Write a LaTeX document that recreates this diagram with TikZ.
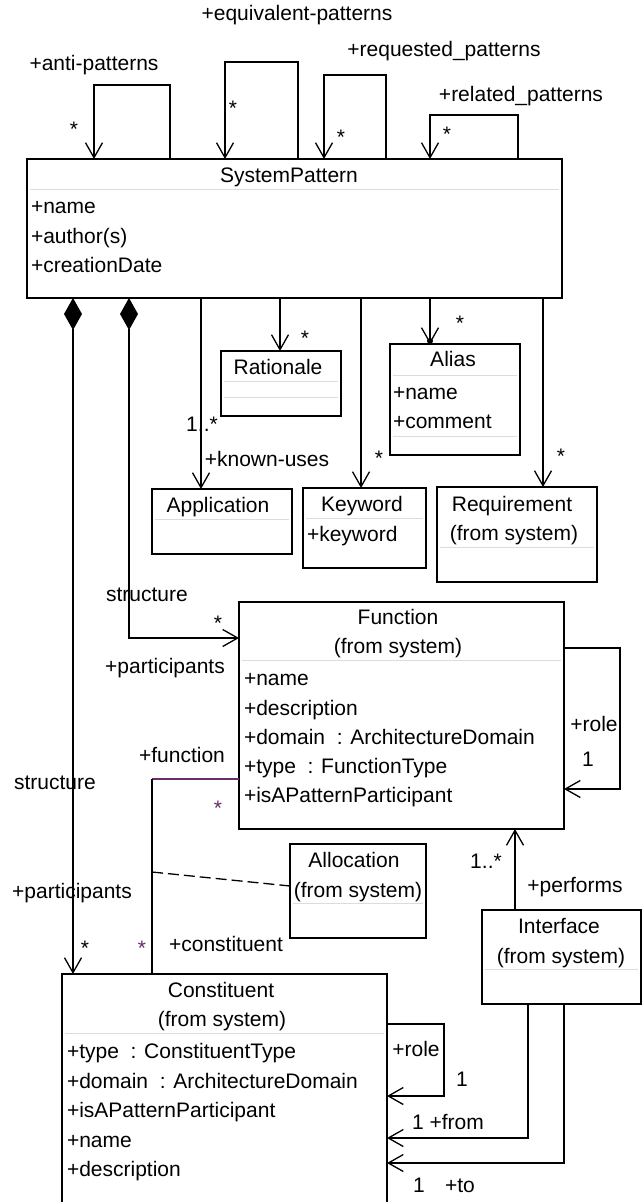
\documentclass[tikz,border=0pt]{standalone}
\usepackage{fontspec}
\setmainfont{Liberation Sans}
\usetikzlibrary{arrows.meta}
\definecolor{sepgray}{RGB}{220,220,220}
\definecolor{seppurple}{RGB}{228,214,232}
\definecolor{umlpurple}{RGB}{104,44,104}
\begin{document}
\begin{tikzpicture}[x=1pt,y=-1pt,
  every node/.style={inner sep=0pt,outer sep=0pt},
  classbox/.style={draw=black,line width=1.3pt,rectangle,anchor=north west,inner sep=0pt},
  txt/.style={font=\fontsize{21}{25}\selectfont,text=black},
  title/.style={txt,anchor=mid},
  attr/.style={txt,anchor=mid west},
  lbl/.style={txt,anchor=mid},
  seprule/.style={draw=sepgray,line width=0.9pt},
  plain/.style={draw=black,line width=1.3pt},
  assoc/.style={plain,-{Straight Barb[length=15pt,width=17pt]}},
  comp/.style={plain,{Diamond[length=32pt,width=18pt]}-{Straight Barb[length=15pt,width=17pt]}},
  compnoarrow/.style={plain,{Diamond[length=32pt,width=18pt]}-},
]
\useasboundingbox[fill=white] (0,0) rectangle (644,1202);

% ---------------- SystemPattern ----------------
\node[classbox,minimum width=535pt,minimum height=139pt] (sp) at (27,159) {};
\node[title] (spt) at (289,180) {SystemPattern};
\draw[seprule] (30,189) -- (559,189);
\node[attr] (spa1) at (31,211) {+name};
\node[attr] (spa2) at (31,241) {+author(s)};
\node[attr] (spa3) at (31,270) {+creationDate};

% self associations
\draw[assoc] (170,0 |- sp.north) -- (170,85) -- (94,85) -- (94,0 |- sp.north);
\node[lbl] (l-anti) at (94,68) {+anti-patterns};
\node[lbl] (s-anti) at (74,134) {*};
\draw[assoc] (298,0 |- sp.north) -- (298,62) -- (225,62) -- (225,0 |- sp.north);
\node[lbl] (l-eq) at (297,18) {+equivalent-patterns};
\node[lbl] (s-eq) at (233,113) {*};
\draw[assoc] (386,0 |- sp.north) -- (386,75) -- (324,75) -- (324,0 |- sp.north);
\node[lbl] (l-req) at (444,54) {+requested\_patterns};
\node[lbl] (s-req) at (341,142) {*};
\draw[assoc] (518,0 |- sp.north) -- (518,115) -- (430,115) -- (430,0 |- sp.north);
\node[lbl] (l-rel) at (521,99) {+related\_patterns};
\node[lbl] (s-rel) at (447,139) {*};

% ---------------- Small classes ----------------
\node[classbox,minimum width=120pt,minimum height=65pt] (rat) at (221,351) {};
\node[title] (ratt) at (278,372) {Rationale};
\draw[seprule] (224,381) -- (338,381);
\draw[seprule] (224,397) -- (338,397);

\node[classbox,minimum width=140pt,minimum height=65pt] (app) at (152,489) {};
\node[title] (appt) at (218,510) {Application};
\draw[seprule] (155,519) -- (289,519);

\node[classbox,minimum width=123pt,minimum height=80pt] (kw) at (303,488) {};
\node[title] (kwt) at (362,509) {Keyword};
\draw[seprule] (306,518) -- (423,518);
\node[attr] (kwa) at (307,539) {+keyword};

\node[classbox,minimum width=130pt,minimum height=111pt] (al) at (390,344) {};
\node[title] (alt) at (453,364) {Alias};
\draw[seprule] (393,375) -- (517,375);
\node[attr] (ala1) at (393,397) {+name};
\node[attr] (ala2) at (393,426) {+comment};
\draw[seprule] (393,436) -- (517,436);

\node[classbox,minimum width=160pt,minimum height=95pt] (rq) at (437,487) {};
\node[title] (rqt1) at (512,509) {Requirement};
\node[title] (rqt2) at (514,538) {(from system)};
\draw[seprule] (440,547) -- (594,547);

% connectors from SystemPattern
\draw[assoc] (201,0 |- sp.south) -- (201,0 |- app.north);
\node[lbl] (m-app) at (202,429) {1..*};
\node[lbl] (r-app) at (267,464) {+known-uses};
\draw[assoc] (280,0 |- sp.south) -- (280,0 |- rat.north);
\node[lbl] (s-rat) at (305,343) {*};
\draw[assoc] (361,0 |- sp.south) -- (361,0 |- kw.north);
\node[lbl] (s-kw) at (379,463) {*};
\draw[assoc] (430,0 |- sp.south) -- (430,0 |- al.north);
\fill[black] (430,341) circle (3pt);
\node[lbl] (s-al) at (460,328) {*};
\draw[assoc] (543,0 |- sp.south) -- (543,0 |- rq.north);
\node[lbl] (s-rq) at (561,461) {*};

% ---------------- Function ----------------
\node[classbox,minimum width=325pt,minimum height=227pt] (fn) at (239,602) {};
\node[title] (fnt1) at (398,622) {Function};
\node[title] (fnt2) at (398,651) {(from system)};
\draw[seprule] (242,660) -- (561,660);
\node[attr] (fna1) at (244,683) {+name};
\node[attr] (fna2) at (244,713) {+description};
\node[attr] (fna3) at (244,742) {+domain\ \ : ArchitectureDomain};
\node[attr] (fna4) at (244,771) {+type\ \ : FunctionType};
\node[attr] (fna5) at (244,800) {+isAPatternParticipant};
\draw[assoc] (fn.east |- 0,648) -- (620,648) -- (620,789) -- (fn.east |- 0,789);
\node[lbl] (fnrole) at (594,729) {+role};
\node[lbl] (fnone) at (588,764) {1};

% composition to Function
\draw[comp] (129,0 |- sp.south) -- (129,638) -- (fn.west |- 0,638);
\node[lbl] (str1) at (147,599) {structure};
\node[lbl] (s-fn) at (218,628) {*};
\node[lbl] (par1) at (165,671) {+participants};

% ---------------- Constituent ----------------
\node[classbox,minimum width=325pt,minimum height=250pt] (cons) at (62,974) {};
\node[title] (ct1) at (221,995) {Constituent};
\node[title] (ct2) at (222,1024) {(from system)};
\draw[seprule] (65,1033) -- (384,1033);
\node[attr] (ca1) at (67,1056) {+type\ \ : ConstituentType};
\node[attr] (ca2) at (67,1086) {+domain\ \ : ArchitectureDomain};
\node[attr] (ca3) at (67,1115) {+isAPatternParticipant};
\node[attr] (ca4) at (67,1145) {+name};
\node[attr] (ca5) at (67,1174) {+description};
\draw[assoc] (cons.east |- 0,1024) -- (444,1024) -- (444,1096) -- (cons.east |- 0,1096);
\node[lbl] (crole) at (416,1054) {+role};
\node[lbl] (cone) at (462,1084) {1};

% composition to Constituent
\draw[comp] (73,0 |- sp.south) -- (73,0 |- cons.north);
\node[lbl] (str2) at (55,787) {structure};
\node[lbl] (par2) at (72,896) {+participants};
\node[lbl] (s-c1) at (85,953) {*};

% function - constituent association
\coordinate (fbend) at (152,779);
\draw[draw=umlpurple,line width=1.3pt] (fn.west |- fbend) -- (fbend);
\draw[plain] (fbend) -- (fbend |- cons.north);
\node[lbl] (rfun) at (182,760) {+function};
\node[lbl,text=umlpurple] (s-f) at (218,813) {*};
\node[lbl,text=umlpurple] (s-c2) at (142,953) {*};
\node[lbl] (rcons) at (226,949) {+constituent};

% ---------------- Allocation ----------------
\node[classbox,minimum width=136pt,minimum height=94pt] (alc) at (290,844) {};
\node[title] (alct1) at (354,865) {Allocation};
\node[title] (alct2) at (358,895) {(from system)};
\draw[draw=seppurple,line width=0.9pt] (293,903) -- (423,903);
\coordinate (dstart) at (152,872);
\draw[plain,dash pattern=on 11pt off 5pt] (dstart) -- (alc.west |- 0,886);

% ---------------- Interface ----------------
\node[classbox,minimum width=159pt,minimum height=94pt] (itf) at (482,910) {};
\node[title] (itft1) at (559,931) {Interface};
\node[title] (itft2) at (561,961) {(from system)};
\draw[seprule] (485,969) -- (638,969);
\draw[assoc] (515,0 |- itf.north) -- (515,0 |- fn.south);
\node[lbl] (m-perf) at (486,866) {1..*};
\node[lbl] (r-perf) at (575,890) {+performs};
\draw[assoc] (528,0 |- itf.south) -- (528,1138) -- (cons.east |- 0,1138);
\node[lbl] (r-from) at (448,1127) {1 +from};
\draw[assoc] (564,0 |- itf.south) -- (564,1163) -- (cons.east |- 0,1163);
\node[lbl] (m-to) at (419,1190) {1};
\node[lbl] (r-to) at (460,1190) {+to};
\end{tikzpicture}
\end{document}
